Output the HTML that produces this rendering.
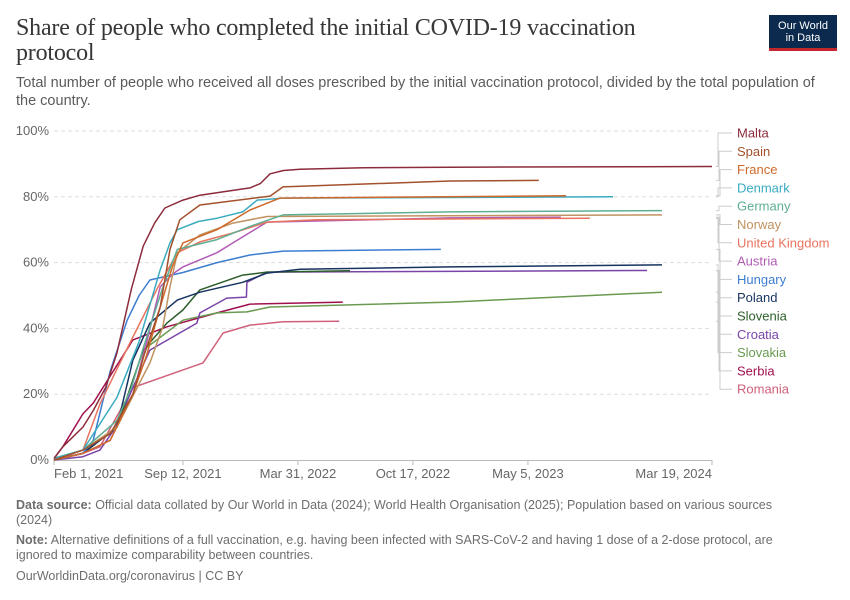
<!DOCTYPE html>
<html><head><meta charset="utf-8"><style>
body{margin:0;background:#fff;font-family:"Liberation Sans",sans-serif;}
#wrap{position:relative;width:850px;height:600px;overflow:hidden;}
.t{position:absolute;margin:0;}
</style></head><body>
<div id="wrap">
<h1 class="t" style="left:16px;top:16px;width:650px;font-family:'Liberation Serif',serif;font-size:24px;line-height:25px;font-weight:normal;color:#373737;letter-spacing:-0.2px">Share of people who completed the initial COVID-19 vaccination protocol</h1>
<div class="t" style="left:769px;top:15px;width:68px;height:36px;background:#0c2a4d;border-bottom:3px solid #c2272d;box-sizing:border-box;color:#fff;font-size:11px;line-height:12px;text-align:center;padding-top:5px">Our World<br>in Data</div>
<p class="t" style="left:16px;top:74px;width:812px;font-size:14.5px;line-height:18px;color:#5b5b5b">Total number of people who received all doses prescribed by the initial vaccination protocol, divided by the total population of the country.</p>
<svg id="chart" width="850" height="600" style="position:absolute;left:0;top:0" font-family="Liberation Sans, sans-serif"></svg>
<p class="t" style="left:16px;top:498px;width:780px;font-size:12.5px;line-height:15px;color:#6e6e6e"><b>Data source:</b> Official data collated by Our World in Data (2024); World Health Organisation (2025); Population based on various sources (2024)</p>
<p class="t" style="left:16px;top:533px;width:790px;font-size:12.5px;line-height:15px;color:#6e6e6e"><b>Note:</b> Alternative definitions of a full vaccination, e.g. having been infected with SARS-CoV-2 and having 1 dose of a 2-dose protocol, are ignored to maximize comparability between countries.</p>
<p class="t" style="left:16px;top:569px;font-size:12.5px;color:#6e6e6e">OurWorldinData.org/coronavirus | CC BY</p>
</div>
<script>
const yTicks=[0,20,40,60,80,100];
const xTickDays=[0,250,473,696,919];
const xTickLabels=["Feb 1, 2021","Sep 12, 2021","Mar 31, 2022","Oct 17, 2022","May 5, 2023"];
const countries=["Malta","Spain","France","Denmark","Germany","Norway","United Kingdom","Austria","Hungary","Poland","Slovenia","Croatia","Slovakia","Serbia","Romania"];
const colors=["#8c2b3c","#a3502c","#d0692a","#3aabbf","#5fae93","#c0925f","#e8735f","#b05cb5","#3d7dd0","#17335f","#2d5e2a","#7a44a8","#6a9a50","#a0104f","#d0607a"];
const maltaD=[0,17,56,76,100,122,150,173,195,215,250,283,380,400,419,445,477,600,768,1276];
const maltaV=[0.5,4,10,15,22,32.5,52,65,72,76.6,79,80.5,82.7,84,87,88,88.4,88.8,89,89.2];
const spainD=[0,56,109,153,175,206,225,244,283,419,444,768,940];
const spainV=[0,3,8,20,32,46.5,64,73,77.5,80.2,83,84.8,85];
const franceD=[0,56,109,153,180,206,230,250,316,380,438,993];
const franceV=[0,2,6,20,32,46.5,59,66,70,76,79.6,80.3];
const denmarkD=[0,56,122,165,206,225,239,280,316,366,394,444,1084];
const denmarkV=[0.5,3,19,36,57.8,66,70,72.5,73.5,75.4,79,79.6,80];
const germanyD=[0,56,122,150,173,210,239,316,380,444,768,1179];
const germanyV=[0.5,3,12,22,34,52,64,67,71,74.5,75.4,75.8];
const norwayD=[0,56,122,186,211,225,239,283,347,413,1179];
const norwayV=[0.5,3,10,29.5,40.5,52.6,63,68.4,72,74,74.5];
const ukD=[0,56,89,120,153,200,239,283,347,413,510,1039];
const ukV=[0,3,17,27,37.4,52,63,66.3,69,72.3,73,73.5];
const austriaD=[0,56,109,153,180,206,230,250,316,347,413,768,983];
const austriaV=[0,2,6,20,36,52.6,56.5,58.7,63,66,72.3,73.6,73.8];
const hungaryD=[0,56,76,109,142,165,186,250,316,380,444,750];
const hungaryV=[0,2,6,27,42.5,50,54.7,57,60,62.3,63.5,64];
const polandD=[0,56,122,153,186,239,283,366,413,477,768,1179];
const polandV=[0,2,10,30.4,41.6,48.6,51,54,56.8,58,58.7,59.3];
const sloveniaD=[0,56,122,173,219,250,283,366,413,574];
const sloveniaV=[0,2,10,33.4,41.6,45.6,51.7,56.2,57.1,57.5];
const croatiaD=[0,56,89,120,153,186,277,283,335,373,374,413,1150];
const croatiaV=[0,1,3,10,22,33.4,41.6,44.7,49.2,49.5,54,57.1,57.6];
const slovakiaD=[0,56,122,173,250,316,374,419,768,1179];
const slovakiaV=[0,2,10,33.4,42.5,44.7,45,46.5,48,51];
const serbiaD=[0,17,56,76,153,219,316,380,560];
const serbiaV=[0.5,4,14,17.3,36.5,40.5,44.7,47.4,48];
const romaniaD=[0,56,89,153,250,289,328,380,444,553];
const romaniaV=[0,2,4,22,27.4,29.5,38.6,41,42,42.2];
const seriesD=[maltaD,spainD,franceD,denmarkD,germanyD,norwayD,ukD,austriaD,hungaryD,polandD,sloveniaD,croatiaD,slovakiaD,serbiaD,romaniaD];
const seriesV=[maltaV,spainV,franceV,denmarkV,germanyV,norwayV,ukV,austriaV,hungaryV,polandV,sloveniaV,croatiaV,slovakiaV,serbiaV,romaniaV];

const X0=54,PXD=0.5157,Y0=460,Y100=131;
const xs=d=>X0+d*PXD;
const ys=v=>Y0-(Y0-Y100)*v/100;
const svg=document.getElementById('chart');
const NS='http://www.w3.org/2000/svg';
function mk(tag,attrs){const e=document.createElementNS(NS,tag);for(const k in attrs)e.setAttribute(k,attrs[k]);svg.appendChild(e);return e;}
yTicks.forEach(t=>{
  if(t>0){const g=mk('line',{x1:54,x2:712,y1:ys(t),y2:ys(t),stroke:'#ddd','stroke-dasharray':'4,3'});
  
  }
  const l=mk('text',{x:49,y:ys(t)+4,'text-anchor':'end','font-size':13,fill:'#666'});
  l.textContent=t+'%';
  
  
});
const ax=mk('line',{x1:54,x2:712,y1:460.5,y2:460.5,stroke:'#bbb'});


xTickDays.forEach((d,i)=>{
  const tk=mk('line',{x1:xs(d),x2:xs(d),y1:460,y2:465,stroke:'#bbb'});
  
  
  const l=mk('text',{x:i==0?54:xs(d),y:478,'text-anchor':i==0?'start':'middle','font-size':13,fill:'#666'});
  l.textContent=xTickLabels[i];
  
  
});
const tkl=mk('line',{x1:712,x2:712,y1:460,y2:465,stroke:'#bbb'});


const ll=mk('text',{x:712,y:478,'text-anchor':'end','font-size':13,fill:'#666'});
ll.textContent='Mar 19, 2024';


for(let i=countries.length-1;i>=0;i--){
  const D=seriesD[i],V=seriesV[i];
  const p=D.map((d,j)=>(j?'L':'M')+xs(d).toFixed(1)+','+ys(V[j]).toFixed(1)).join('');
  const path=mk('path',{d:p,fill:'none',stroke:colors[i],'stroke-width':1.5,'stroke-linejoin':'round'});
  
  
}
countries.forEach((c,i)=>{
  const D=seriesD[i],V=seriesV[i];
  const ly=133+i*18.3;
  const ey=ys(V[V.length-1]);
  const cx=718+(i%3);
  const con=mk('path',{d:`M716,${ey.toFixed(1)}H${cx}V${ly}H732`,fill:'none',stroke:'#ccc','stroke-width':1});
  
  
  const t=mk('text',{x:737,y:ly+4.5,'font-size':13,fill:colors[i]});
  t.textContent=c;
  
  
});
</script>
</body></html>
